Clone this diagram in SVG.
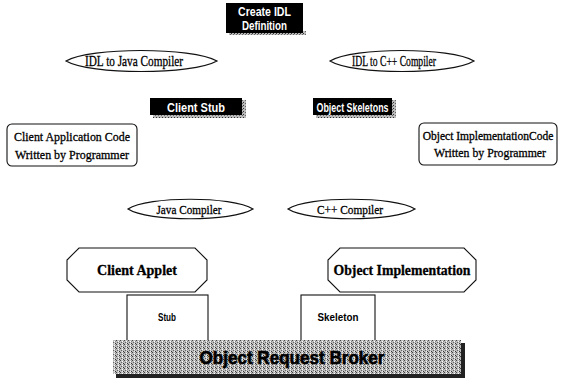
<svg xmlns="http://www.w3.org/2000/svg" width="562" height="382" viewBox="0 0 562 382">
  <defs>
    <!-- stippled grey fill used for the broker bar -->
    <pattern id="stipple" width="4" height="4" patternUnits="userSpaceOnUse">
      <rect width="4" height="4" fill="#bdbdbd"/>
      <rect x="0" y="0" width="1" height="1" fill="#444"/>
      <rect x="2" y="1" width="1" height="1" fill="#fff"/>
      <rect x="1" y="2" width="1" height="1" fill="#666"/>
      <rect x="3" y="3" width="1" height="1" fill="#333"/>
      <rect x="3" y="1" width="1" height="1" fill="#888"/>
      <rect x="2" y="3" width="1" height="1" fill="#eee"/>
    </pattern>
    <pattern id="speck" width="3" height="3" patternUnits="userSpaceOnUse">
      <rect width="3" height="3" fill="#bbb"/>
      <rect x="0" y="0" width="1" height="1" fill="#333"/>
      <rect x="2" y="1" width="1" height="1" fill="#666"/>
    </pattern>
  </defs>
  <style>
    .bg { fill: #ffffff; }
    .ell { fill: #ffffff; stroke: #111; stroke-width: 1.2; }
    .box { fill: #ffffff; stroke: #111; stroke-width: 1.1; }
    .dark { fill: #000; }
    .shadow { fill: url(#speck); }
    .serif { font-family: "Liberation Serif", "Times New Roman", serif; fill: #000; text-anchor: middle; stroke: #000; stroke-width: 0.3; }
    .sans { font-family: "Liberation Sans", Arial, sans-serif; text-anchor: middle; }
    .inv { fill: #fff; font-weight: bold; }
  </style>
  <rect class="bg" width="562" height="382"/>

  <g id="connectors"></g>

  <g id="create-idl">
    <rect class="shadow" x="229" y="31" width="77" height="4"/>
    <rect class="dark" x="226" y="3" width="77" height="30"/>
    <text class="sans inv" x="264.5" y="16" font-size="12" textLength="53" lengthAdjust="spacingAndGlyphs">Create IDL</text>
    <text class="sans inv" x="264.5" y="30" font-size="12" textLength="45" lengthAdjust="spacingAndGlyphs">Definition</text>
  </g>

  <!-- lens-shaped compiler ovals -->
  <g id="idl-java">
    <path class="ell" d="M66,61 C90,47 192,47 217,61 C192,75 90,75 66,61 Z"/>
    <text class="serif" x="134" y="66" font-size="15" textLength="98" lengthAdjust="spacingAndGlyphs">IDL to Java Compiler</text>
  </g>

  <g id="idl-cpp">
    <path class="ell" d="M330,61 C353,47 451,47 474,61 C451,75 353,75 330,61 Z"/>
    <text class="serif" x="394" y="66" font-size="15" textLength="84" lengthAdjust="spacingAndGlyphs">IDL to C++ Compiler</text>
  </g>

  <g id="client-stub">
    <rect class="shadow" x="153" y="113" width="93" height="5"/>
    <rect class="shadow" x="241" y="100" width="5" height="18"/>
    <rect class="dark" x="150" y="98" width="92" height="17"/>
    <text class="sans inv" x="196" y="111.5" font-size="12" textLength="58" lengthAdjust="spacingAndGlyphs">Client Stub</text>
  </g>

  <g id="object-skeletons">
    <rect class="shadow" x="316" y="113" width="80" height="5"/>
    <rect class="shadow" x="391" y="100" width="5" height="18"/>
    <rect class="dark" x="313" y="98" width="79" height="17"/>
    <text class="sans inv" x="352.5" y="111.5" font-size="13" textLength="72" lengthAdjust="spacingAndGlyphs">Object Skeletons</text>
  </g>

  <g id="client-app-code">
    <rect class="box" x="7" y="124" width="130" height="42" rx="5"/>
    <text class="serif" x="72" y="141" font-size="13" textLength="116" lengthAdjust="spacingAndGlyphs">Client Application Code</text>
    <text class="serif" x="72" y="159" font-size="13" textLength="114" lengthAdjust="spacingAndGlyphs">Written by Programmer</text>
  </g>

  <g id="object-impl-code">
    <rect class="box" x="419" y="123" width="138" height="42" rx="5"/>
    <text class="serif" x="488" y="140" font-size="11.5">Object ImplementationCode</text>
    <text class="serif" x="490" y="157" font-size="13" textLength="112" lengthAdjust="spacingAndGlyphs">Written by Programmer</text>
  </g>

  <g id="java-compiler">
    <path class="ell" d="M128,209 C148,196 232,196 253,209 C232,222 148,222 128,209 Z"/>
    <text class="serif" x="189" y="213.5" font-size="13" textLength="65" lengthAdjust="spacingAndGlyphs">Java Compiler</text>
  </g>

  <g id="cpp-compiler">
    <path class="ell" d="M288,209 C308,196 394,196 415,209 C394,222 308,222 288,209 Z"/>
    <text class="serif" x="350" y="213.5" font-size="13" textLength="66" lengthAdjust="spacingAndGlyphs">C++ Compiler</text>
  </g>

  <g id="client-applet">
    <polygon class="box" points="79,248 195,248 207,260 207,280 195,292 79,292 67,280 67,260"/>
    <text class="serif" x="137" y="275" font-size="15" font-weight="bold" textLength="80" lengthAdjust="spacingAndGlyphs">Client Applet</text>
  </g>

  <g id="object-impl">
    <polygon class="box" points="340,248 464,248 476,260 476,280 464,292 340,292 328,280 328,260"/>
    <text class="serif" x="402" y="275" font-size="15" font-weight="bold" textLength="137" lengthAdjust="spacingAndGlyphs">Object Implementation</text>
  </g>

  <g id="stub">
    <rect class="box" x="127" y="295" width="81" height="46"/>
    <text class="sans" x="167" y="321" font-size="11" font-weight="bold" textLength="18" lengthAdjust="spacingAndGlyphs">Stub</text>
  </g>

  <g id="skeleton">
    <rect class="box" x="301" y="295" width="74" height="46"/>
    <text class="sans" x="338" y="321" font-size="11" font-weight="bold" textLength="41" lengthAdjust="spacingAndGlyphs">Skeleton</text>
  </g>

  <g id="orb">
    <rect x="116" y="343" width="349" height="35" fill="#222"/>
    <rect x="113" y="340" width="348" height="34" fill="url(#stipple)"/>
    <text class="sans" x="292" y="364" font-size="18" font-weight="bold" fill="#000" stroke="#000" stroke-width="0.6" textLength="185" lengthAdjust="spacingAndGlyphs">Object Request Broker</text>
  </g>
</svg>
